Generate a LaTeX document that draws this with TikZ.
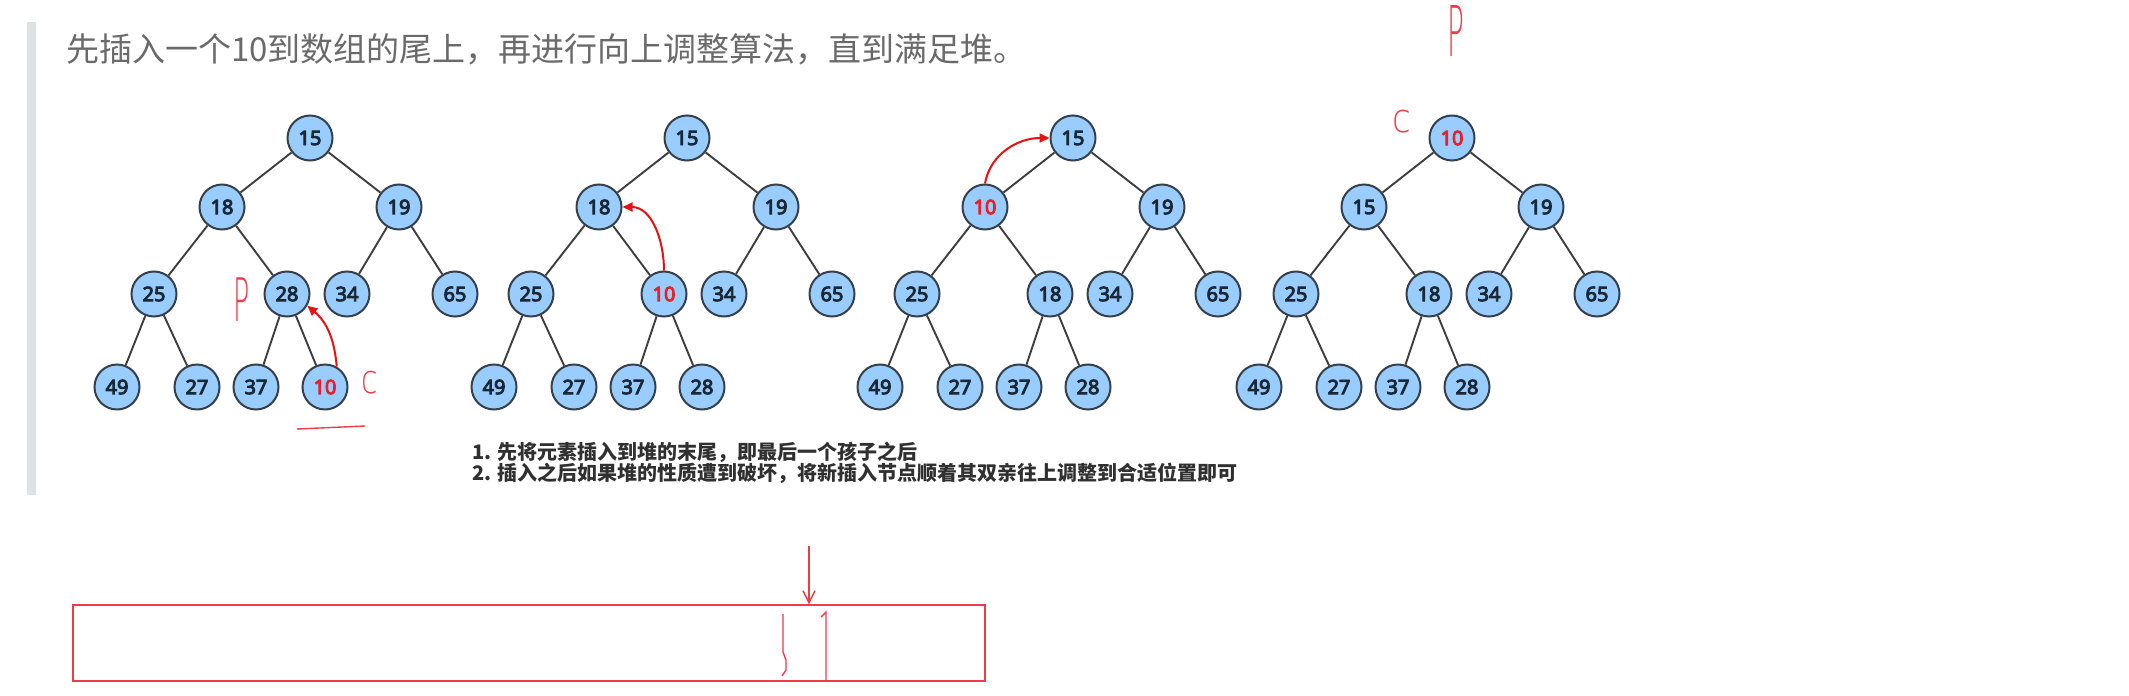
\documentclass[tikz,border=0pt]{standalone}
\usepackage{fontspec}
\usepackage{xcolor}
\usepackage{graphicx}
\usepackage{tikz}
\usetikzlibrary{arrows.meta}

\setmainfont{Noto Sans}
\newfontfamily\keyfont{Noto Sans}[FakeBold=4.5]
\newfontfamily\cjk{Noto Sans CJK SC}
\newfontfamily\hand{DejaVu Sans ExtraLight}

\definecolor{nodefill}{HTML}{99CCFF}
\definecolor{nodeline}{HTML}{36404A}
\definecolor{keytext}{HTML}{1A2836}
\definecolor{hotred}{HTML}{E8202A}
\definecolor{edgegray}{HTML}{3E3E3E}
\definecolor{arrowred}{HTML}{E81010}
\definecolor{inkred}{HTML}{F03A48}
\definecolor{quotebar}{HTML}{DFE2E5}
\definecolor{titlegray}{HTML}{6A6A6A}
\definecolor{listgray}{HTML}{303030}

\tikzset{
  key/.style={circle, draw=nodeline, fill=nodefill, line width=2pt,
    minimum size=45pt, inner sep=0pt, text=keytext,
    font=\keyfont\fontsize{20}{20}\selectfont},
  link/.style={draw=edgegray, line width=1.9pt},
  swap/.style={-{Triangle[length=10pt,width=9pt]}, draw=arrowred, line width=2pt},
  ink/.style={draw=inkred, line width=1.4pt},
  scrawl/.style={inner sep=0pt, text=inkred, font=\hand\fontsize{60}{60}\selectfont}
}

\newcommand\hotkey[1]{\textcolor{hotred}{#1}}

\begin{document}
\begin{tikzpicture}[x=1pt,y=1pt]
    \def\yroot{-138}
    \def\yone{-207}
    \def\ytwo{-294}
    \def\ythree{-387}

    \useasboundingbox (0,0) rectangle (2129,-696);

    % quote bar and heading
    \fill[quotebar] (27,-22) rectangle (36,-495);
    \node[anchor=base west, inner sep=0pt, text=titlegray, font=\cjk\fontsize{33}{40}\selectfont]
        (title) at (66,-61) {先插入一个10到数组的尾上，再进行向上调整算法，直到满足堆。};

    % the four heaps
    \foreach \tree/\xo/\ka/\kb/\kc/\kd/\ke/\kf/\kg/\kh/\ki/\kj/\kk in {
        1/310/15/18/19/25/28/34/65/49/27/37/\hotkey{10},
        2/687/15/18/19/25/\hotkey{10}/34/65/49/27/37/28,
        3/1073/15/\hotkey{10}/19/25/18/34/65/49/27/37/28,
        4/1452/\hotkey{10}/15/19/25/18/34/65/49/27/37/28}
    {
        \node[key] (t\tree-a) at (\xo,\yroot) {\ka};
        \node[key] (t\tree-b) at (\xo-88,\yone) {\kb};
        \node[key] (t\tree-c) at (\xo+89,\yone) {\kc};
        \node[key] (t\tree-d) at (\xo-156,\ytwo) {\kd};
        \node[key] (t\tree-e) at (\xo-23,\ytwo) {\ke};
        \node[key] (t\tree-f) at (\xo+37,\ytwo) {\kf};
        \node[key] (t\tree-g) at (\xo+145,\ytwo) {\kg};
        \node[key] (t\tree-h) at (\xo-193,\ythree) {\kh};
        \node[key] (t\tree-i) at (\xo-113,\ythree) {\ki};
        \node[key] (t\tree-j) at (\xo-54,\ythree) {\kj};
        \node[key] (t\tree-k) at (\xo+15,\ythree) {\kk};
        \foreach \up/\dn in {a/b,a/c,b/d,b/e,c/f,c/g,d/h,d/i,e/j,e/k}
            \draw[link] (t\tree-\up) -- (t\tree-\dn);
    }

    % moving the new key up
    \draw[swap] (t1-k.60) to[out=95,in=-40] (t1-e.-30);
    \draw[swap] (t2-e.north) to[out=90,in=0] (t2-b.east);
    \draw[swap] (t3-b.north) to[out=80,in=180] (t3-a.west);

    % steps
    \node[anchor=base west, inner sep=0pt, text=listgray, font=\cjk\bfseries\fontsize{20}{20}\selectfont]
        (step1) at (472,-459) {1. 先将元素插入到堆的末尾，即最后一个孩子之后};
    \node[anchor=base west, inner sep=0pt, text=listgray, font=\cjk\bfseries\fontsize{20}{20}\selectfont]
        (step2) at (472,-480) {2. 插入之后如果堆的性质遭到破坏，将新插入节点顺着其双亲往上调整到合适位置即可};

    % hand notes
    \node[scrawl] (p1) at (242,-300) {\scalebox{0.45}[1]{P}};
    \node[scrawl, font=\hand\fontsize{40}{40}\selectfont] (c1) at (370,-383) {\scalebox{0.75}[1]{c}};
    \draw[ink] (297,-429) -- (365,-426);
    \node[scrawl, font=\hand\fontsize{70}{70}\selectfont] (p2) at (1456,-31) {\scalebox{0.4}[1]{P}};
    \node[scrawl, font=\hand\fontsize{40}{40}\selectfont] (c2) at (1402,-122) {\scalebox{0.85}[1]{c}};

    % the array below
    \node[ink, draw, inner sep=0pt, minimum width=912pt, minimum height=76pt] (slot) at (529,-643) {};
    \coordinate (drop) at (809,-546);
    \draw[ink, -{Straight Barb[length=12pt,width=12pt]}] (drop) -- (drop |- slot.north);
    \draw[ink] (783,-614) -- (783,-652) -- (786,-660) -- (786,-670) -- (782,-676);
    \draw[ink] (821,-617) -- (826,-612) -- (826,-681);

\end{tikzpicture}
\end{document}
